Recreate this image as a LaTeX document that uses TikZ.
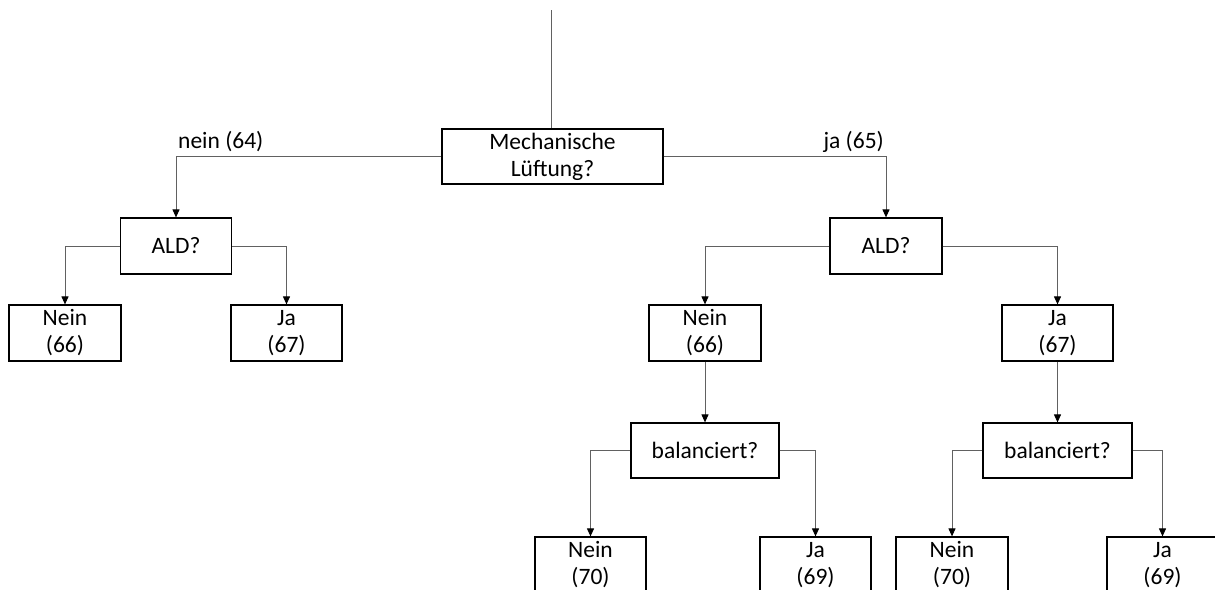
\documentclass[tikz,border=0pt]{standalone}
\usepackage{fontspec}
\setmainfont{Carlito}
\usetikzlibrary{arrows.meta}
\begin{document}
\begin{tikzpicture}[x=1pt,y=-1pt,
  box/.style={draw=black, line width=1.2pt, rectangle, minimum height=56pt,
    inner sep=0pt, align=center, fill=white,
    font=\fontsize{23.5}{27}\selectfont},
  conn/.style={draw=black!62, line width=1pt},
  arr/.style={conn, -{Triangle[length=8pt,width=7pt,color=black]}},
  lbl/.style={inner sep=0pt, font=\fontsize{23.5}{27}\selectfont}
]
\useasboundingbox (0,0) rectangle (1215,589);
\clip (0,0) rectangle (1215,589);

% nodes
\node[box, minimum width=221pt, minimum height=55pt] (m) at (552.5,156.5) {Mechanische\\Lüftung?};
\node[box, minimum width=111pt] (ald1) at (176,246) {ALD?};
\node[box, minimum width=112pt] (n1) at (65,333) {Nein\\(66)};
\node[box, minimum width=111pt] (j1) at (286.5,333) {Ja\\(67)};
\node[box, minimum width=112pt] (ald2) at (886,246) {ALD?};
\node[box, minimum width=112pt] (n2) at (705,333) {Nein\\(66)};
\node[box, minimum width=111pt] (j2) at (1057.5,333) {Ja\\(67)};
\node[box, minimum width=148pt, minimum height=55pt] (b1) at (705,450.5) {balanciert?};
\node[box, minimum width=149pt, minimum height=55pt] (b2) at (1057.5,450.5) {balanciert?};
\node[box, minimum width=111pt] (n3) at (590.5,565) {Nein\\(70)};
\node[box, minimum width=111pt] (j3) at (815.5,565) {Ja\\(69)};
\node[box, minimum width=112pt] (n4) at (952,565) {Nein\\(70)};
\node[box, minimum width=111pt] (j4) at (1162.5,565) {Ja\\(69)};

\coordinate (top) at (551,10);
\coordinate (cl) at (ald1.north |- m.west);
\coordinate (cr) at (ald2.north |- m.east);

% connectors
\draw[conn] (top) -- (top |- m.north);
\draw[arr] (m.west) -| (ald1.north);
\draw[arr] (m.east) -| (ald2.north);
\draw[arr] (ald1.west) -| (n1.north);
\draw[arr] (ald1.east) -| (j1.north);
\draw[arr] (ald2.west) -| (n2.north);
\draw[arr] (ald2.east) -| (j2.north);
\draw[arr] (n2.south) -- (b1.north);
\draw[arr] (j2.south) -- (b2.north);
\draw[arr] (b1.west) -| (n3.north);
\draw[arr] (b1.east) -| (j3.north);
\draw[arr] (b2.west) -| (n4.north);
\draw[arr] (b2.east) -| (j4.north);

% labels
\node[lbl, anchor=base west] (lno) at ([shift={(2,-8)}]cl) {nein (64)};
\node[lbl, anchor=base east] (lja) at ([shift={(-2,-8)}]cr) {ja (65)};
\end{tikzpicture}
\end{document}
